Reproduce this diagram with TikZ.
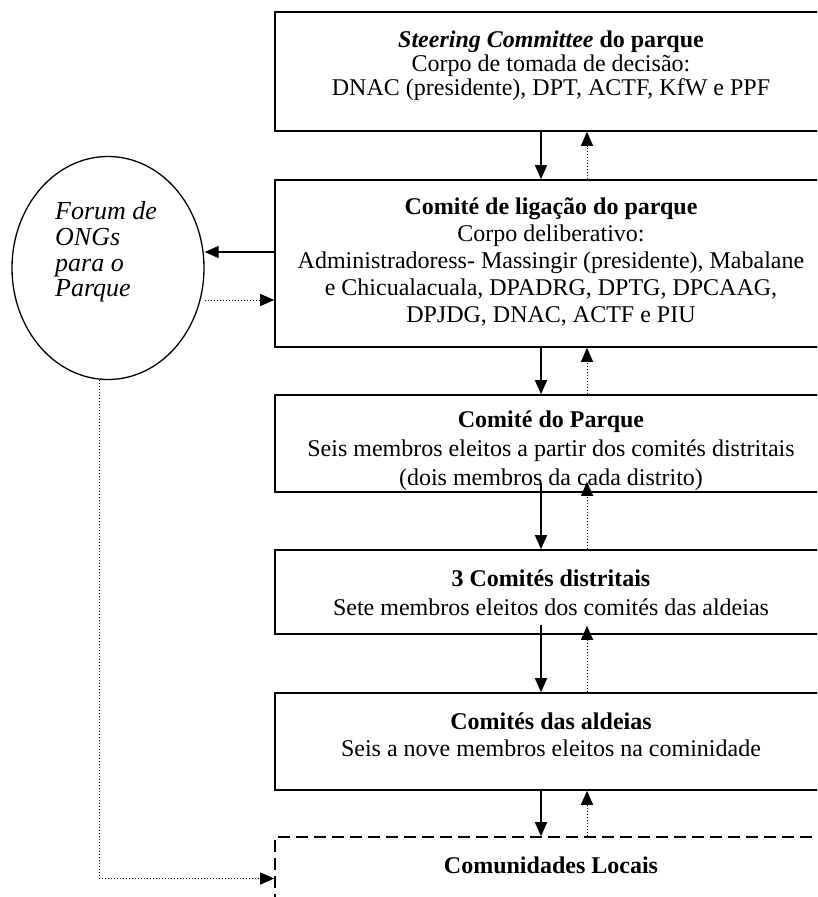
\documentclass[tikz,border=0pt]{standalone}
\usepackage{fontspec}
\setmainfont{Liberation Serif}
\usetikzlibrary{arrows.meta,shapes.geometric,calc}
\begin{document}
\begin{tikzpicture}[x=1pt,y=-1pt,
  boxline/.style={draw,line width=1.6pt,inner sep=0pt},
  lbl/.style={align=center,inner sep=0pt,font=\fontsize{24}{27}\selectfont},
  tight/.style={font=\fontsize{24}{24}\selectfont},
  loose/.style={font=\fontsize{24}{29}\selectfont},
  solidarrow/.style={line width=1.3pt,-{Triangle[length=14pt,width=12pt]}},
  dotarrow/.style={line width=1pt,dotted,-{Triangle[length=14pt,width=12pt]}},
]
\useasboundingbox (0,0) rectangle (817,897);
\clip (0,0) rectangle (817,897);

% x positions of the vertical connectors
\coordinate (cx1) at (541,0);
\coordinate (cx2) at (587,0);
\coordinate (ya) at (0,252);
\coordinate (yb) at (0,300);
\coordinate (xl) at (99,0);

% boxes
\node[boxline,minimum width=560pt,minimum height=119pt] (b1) at (555,71.5) {};
\node[boxline,minimum width=560pt,minimum height=167pt] (b2) at (555,263.5) {};
\node[boxline,minimum width=560pt,minimum height=97pt] (b3) at (555,443.5) {};
\node[boxline,minimum width=560pt,minimum height=84pt] (b4) at (555,592) {};
\node[boxline,minimum width=560pt,minimum height=97pt] (b5) at (555,741.5) {};
\node[boxline,dash pattern=on 12pt off 6pt,minimum width=560pt,minimum height=83pt] (b6) at (555,878.5) {};

% NGO forum
\node[draw,ellipse,line width=1.3pt,inner sep=0pt,minimum width=192pt,minimum height=223pt] (ng) at (108,268) {};
\node[lbl,align=left,anchor=west,font=\fontsize{26}{25.7}\selectfont\itshape] (ngt) at (55,252) {Forum de\\ONGs\\para o\\Parque};

% texts
\node[lbl,tight] (t1) at (551,66) {\textbf{\textit{Steering Committee}} \textbf{do parque}\\Corpo de tomada de decisão:\\DNAC (presidente), DPT, ACTF, KfW e PPF};
\node[lbl] (t2) at (551,262) {\textbf{Comité de ligação do parque}\\Corpo deliberativo:\\Administradoress- Massingir (presidente), Mabalane\\e Chicualacuala, DPADRG, DPTG, DPCAAG,\\DPJDG, DNAC, ACTF e PIU};
\begin{scope}
\clip (b3.north west) rectangle (b3.south east);
\node[lbl,loose] (t3) at (551,451) {\textbf{Comité do Parque}\\Seis membros eleitos a partir dos comités distritais\\(dois membros da cada distrito)};
\end{scope}
\node[lbl,loose] (t4) at (551,593) {\textbf{3 Comités distritais}\\Sete membros eleitos dos comités das aldeias};
\node[lbl] (t5) at (551,735) {\textbf{Comités das aldeias}\\Seis a nove membros eleitos na cominidade};
\node[lbl] (t6) at (551,865) {\textbf{Comunidades Locais}};

% vertical connectors
\draw[solidarrow] (b1.south -| cx1) -- (b2.north -| cx1);
\draw[dotarrow] (b2.north -| cx2) -- (b1.south -| cx2);
\draw[solidarrow] (b2.south -| cx1) -- (b3.north -| cx1);
\draw[dotarrow] (b3.north -| cx2) -- (b2.south -| cx2);
\draw[solidarrow] ($(b3.south -| cx1)+(0,-10)$) -- (b4.north -| cx1);
\draw[dotarrow] (b4.north -| cx2) -- ($(b3.south -| cx2)+(0,-11)$);
\draw[solidarrow] ($(b4.south -| cx1)+(0,-10)$) -- (b5.north -| cx1);
\draw[dotarrow] (b5.north -| cx2) -- ($(b4.south -| cx2)+(0,-9)$);
\draw[solidarrow] (b5.south -| cx1) -- (b6.north -| cx1);
\draw[dotarrow] (b6.north -| cx2) -- (b5.south -| cx2);

% horizontal connectors
\draw[solidarrow] (b2.west |- ya) -- (ng.east |- ya);
\draw[dotarrow] (ng.east |- yb) -- (b2.west |- yb);
\draw[dotarrow] (ng.south -| xl) |- (b6.west);
\end{tikzpicture}
\end{document}
